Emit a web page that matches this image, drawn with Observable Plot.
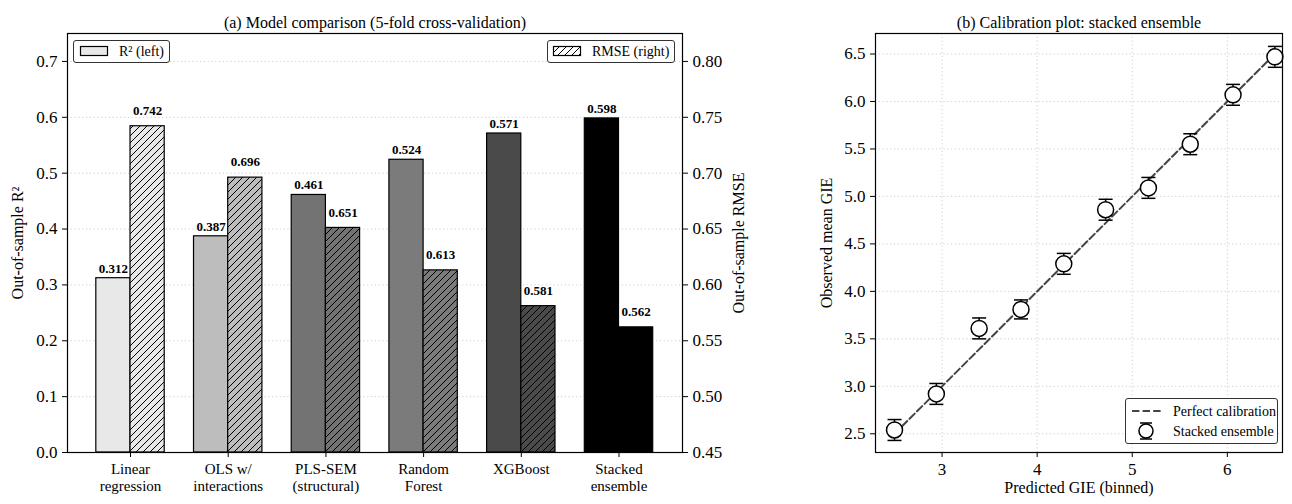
<!DOCTYPE html>
<html><head><meta charset="utf-8">
<script src="https://cdn.jsdelivr.net/npm/d3@7"></script>
<script src="https://cdn.jsdelivr.net/npm/@observablehq/plot@0.6"></script>
<style>
body{margin:0;background:#fff;font-family:"Liberation Serif",serif;}
#wrap{position:relative;width:1292px;height:504px;overflow:hidden;}
.chart{position:absolute;top:0;}
.leg{position:absolute;background:rgba(255,255,255,0.92);border:1px solid #333;border-radius:3px;box-sizing:border-box;font-size:14px;color:#000;line-height:1;}
.leg span{position:absolute;white-space:nowrap;}
.leg svg{position:absolute;overflow:visible;}
</style></head><body><div id="wrap"></div><script>
// ---- Data: panel (a) ----
const models = ["Linear\nregression", "OLS w/\ninteractions", "PLS-SEM\n(structural)", "Random\nForest", "XGBoost", "Stacked\nensemble"];
const r2 = [0.312, 0.387, 0.461, 0.524, 0.571, 0.598];
const rmse = [0.742, 0.696, 0.651, 0.613, 0.581, 0.562];
const r2Ticks = [0.0, 0.1, 0.2, 0.3, 0.4, 0.5, 0.6, 0.7];
const rmseTicks = [0.45, 0.50, 0.55, 0.60, 0.65, 0.70, 0.75, 0.80];
// ---- Data: panel (b) ----
const predicted = [2.50, 2.94, 3.39, 3.83, 4.28, 4.72, 5.17, 5.61, 6.06, 6.50];
const observed  = [2.54, 2.92, 3.61, 3.81, 4.29, 4.86, 5.09, 5.55, 6.07, 6.47];
const errHalf   = [0.11, 0.11, 0.11, 0.10, 0.11, 0.11, 0.11, 0.11, 0.11, 0.11];
const perfectLine = [2.5, 6.5];
const calXTicks = [3, 4, 5, 6];
const calYTicks = [2.5, 3.0, 3.5, 4.0, 4.5, 5.0, 5.5, 6.0, 6.5];

// ---- Styling ----
const barColors = ["#e8e8e8", "#bdbdbd", "#737373", "#7b7b7b", "#4a4a4a", "#000000"];
const FONT = '"Liberation Serif", "Times New Roman", serif';
const TICK_FS = 17;
const gridStyle = {stroke: "#c8c8c8", strokeOpacity: 1, strokeWidth: 0.9, strokeDasharray: "1.2,2.6"};
const R2_DOMAIN = [0, 0.75];
const RMSE_DOMAIN = [0.45, 0.825];
const toLeft = v => (v - RMSE_DOMAIN[0]) * (R2_DOMAIN[1] - R2_DOMAIN[0]) / (RMSE_DOMAIN[1] - RMSE_DOMAIN[0]);
const fromLeft = v => v * (RMSE_DOMAIN[1] - RMSE_DOMAIN[0]) / (R2_DOMAIN[1] - R2_DOMAIN[0]) + RMSE_DOMAIN[0];
const W = 0.35;

const rows = models.map((m, i) => ({i, m, r2: r2[i], rmse: rmse[i], rmseY: toLeft(rmse[i])}));

const wrap = document.getElementById("wrap");

const left = Plot.plot({
  width: 790, height: 504,
  marginLeft: 67, marginRight: 108, marginTop: 33, marginBottom: 52,
  style: {fontFamily: FONT, fontSize: "16px", background: "white", color: "black", overflow: "visible"},
  x: {type: "linear", domain: [-0.645, 5.65]},
  y: {domain: R2_DOMAIN},
  color: {type: "identity"},
  marks: [
    Plot.gridY(r2Ticks.slice(1), gridStyle),
    Plot.rectY(rows, {x1: d => d.i - W, x2: d => d.i, y1: 0, y2: "r2", fill: d => barColors[d.i], stroke: "black", strokeWidth: 1.2}),
    Plot.rectY(rows, {x1: d => d.i, x2: d => d.i + W, y1: 0, y2: "rmseY", fill: d => `url(#hatch${d.i})`, stroke: "black", strokeWidth: 1.2}),
    Plot.text(rows, {x: d => d.i - W / 2, y: d => d.r2 + 0.01, text: d => d.r2.toFixed(3), lineAnchor: "bottom", fontWeight: "bold", fontSize: 13}),
    Plot.text(rows, {x: d => d.i + W / 2, y: d => toLeft(d.rmse + 0.01), text: d => d.rmse.toFixed(3), lineAnchor: "bottom", fontWeight: "bold", fontSize: 13}),
    Plot.axisY({ticks: r2Ticks, tickFormat: d => d.toFixed(1), tickSize: 5, tickPadding: 5, label: null, fontSize: TICK_FS}),
    Plot.axisY({anchor: "right", ticks: rmseTicks.map(toLeft), tickFormat: d => fromLeft(d).toFixed(2), tickSize: 5, tickPadding: 5, label: null, fontSize: TICK_FS}),
    Plot.axisX({ticks: rows.map(d => d.i), tickFormat: i => models[i], tickSize: 5, tickPadding: 5, label: null, fontSize: 15, lineHeight: 1.12}),
    Plot.frame({stroke: "black", strokeWidth: 1.2}),
    Plot.text(["(a) Model comparison (5-fold cross-validation)"], {frameAnchor: "top", dy: -17, fontSize: 16}),
    Plot.text(["Out-of-sample R²"], {frameAnchor: "left", textAnchor: "middle", rotate: -90, dx: -50, fontSize: 16}),
    Plot.text(["Out-of-sample RMSE"], {frameAnchor: "right", textAnchor: "middle", rotate: -90, dx: 56, fontSize: 16})
  ]
});

// hatch patterns
const NS = "http://www.w3.org/2000/svg";
const defs = document.createElementNS(NS, "defs");
[...barColors, "#ffffff"].forEach((c, i) => {
  const p = document.createElementNS(NS, "pattern");
  p.setAttribute("id", i < barColors.length ? `hatch${i}` : "hatchW");
  p.setAttribute("patternUnits", "userSpaceOnUse");
  p.setAttribute("width", "7");
  p.setAttribute("height", "7");
  const r = document.createElementNS(NS, "rect");
  r.setAttribute("width", "7"); r.setAttribute("height", "7"); r.setAttribute("fill", c);
  const path = document.createElementNS(NS, "path");
  path.setAttribute("d", "M-1,1 L1,-1 M0,7 L7,0 M6,8 L8,6");
  path.setAttribute("stroke", "black"); path.setAttribute("stroke-width", "1");
  p.appendChild(r); p.appendChild(path);
  defs.appendChild(p);
});
left.insertBefore(defs, left.firstChild);
left.classList.add("chart");
left.style.left = "0px";
wrap.appendChild(left);

// ---- panel (b) ----
const calRows = predicted.map((p, i) => ({p, o: observed[i], e: errHalf[i]}));
const capSymbol = {draw(ctx) { ctx.moveTo(-7, 0); ctx.lineTo(7, 0); }};

const right = Plot.plot({
  width: 512, height: 504,
  marginLeft: 95, marginRight: 10, marginTop: 33, marginBottom: 52,
  style: {fontFamily: FONT, fontSize: "16px", background: "white", color: "black", overflow: "visible"},
  x: {domain: [2.30, 6.58]},
  y: {domain: [2.303, 6.716]},
  marks: [
    Plot.gridX(calXTicks, gridStyle),
    Plot.gridY(calYTicks, gridStyle),
    Plot.line(perfectLine, {x: d => d, y: d => d, stroke: "#444", strokeWidth: 2, strokeDasharray: "7.4,3.2"}),
    Plot.ruleX(calRows, {x: "p", y1: d => d.o - d.e, y2: d => d.o + d.e, stroke: "black", strokeWidth: 1.5}),
    Plot.dot(calRows, {x: "p", y: d => d.o - d.e, symbol: capSymbol, fill: "none", stroke: "black", strokeWidth: 1.5}),
    Plot.dot(calRows, {x: "p", y: d => d.o + d.e, symbol: capSymbol, fill: "none", stroke: "black", strokeWidth: 1.5}),
    Plot.dot(calRows, {x: "p", y: "o", r: 8, fill: "white", stroke: "black", strokeWidth: 1.5}),
    Plot.axisX({ticks: calXTicks, tickFormat: d => String(d), tickSize: 5, tickPadding: 5, label: null, fontSize: TICK_FS}),
    Plot.axisY({ticks: calYTicks, tickFormat: d => d.toFixed(1), tickSize: 5, tickPadding: 5, label: null, fontSize: TICK_FS}),
    Plot.frame({stroke: "black", strokeWidth: 1.2}),
    Plot.text(["(b) Calibration plot: stacked ensemble"], {frameAnchor: "top", dy: -17, fontSize: 16}),
    Plot.text(["Observed mean GIE"], {frameAnchor: "left", textAnchor: "middle", rotate: -90, dx: -49, fontSize: 16}),
    Plot.text(["Predicted GIE (binned)"], {frameAnchor: "bottom", dy: 40, fontSize: 16})
  ]
});
right.classList.add("chart");
right.style.left = "780px";
wrap.appendChild(right);

// ---- legends ----
function addLegend(html, l, t, w, h) {
  const d = document.createElement("div");
  d.className = "leg";
  Object.assign(d.style, {left: l + "px", top: t + "px", width: w + "px", height: h + "px"});
  d.innerHTML = html;
  wrap.appendChild(d);
}
addLegend(`<svg style="left:6px;top:5px" width="28" height="10"><rect x="0.5" y="0.5" width="27" height="9" fill="${barColors[0]}" stroke="black" stroke-width="1.2"/></svg><span style="left:45px;top:4px">R² (left)</span>`, 73, 40, 97, 23);
addLegend(`<svg style="left:5px;top:5px" width="28" height="10"><rect x="0.5" y="0.5" width="27" height="9" fill="url(#hatchW)" stroke="black" stroke-width="1.2"/></svg><span style="left:44px;top:4px">RMSE (right)</span>`, 547, 40, 128, 23);
addLegend(`<svg style="left:6px;top:8px" width="30" height="8"><line x1="0" y1="4" x2="30" y2="4" stroke="#444" stroke-width="2" stroke-dasharray="7.4,3.2"/></svg>
<span style="left:47px;top:6px">Perfect calibration</span>
<svg style="left:11px;top:22px" width="18" height="20"><line x1="9" y1="2" x2="9" y2="18" stroke="black" stroke-width="1.5"/><line x1="3" y1="2" x2="15" y2="2" stroke="black" stroke-width="1.5"/><line x1="3" y1="18" x2="15" y2="18" stroke="black" stroke-width="1.5"/><circle cx="9" cy="10" r="7" fill="white" stroke="black" stroke-width="1.5"/></svg>
<span style="left:47px;top:26px">Stacked ensemble</span>`, 1125, 398, 153, 46);
</script></body></html>
